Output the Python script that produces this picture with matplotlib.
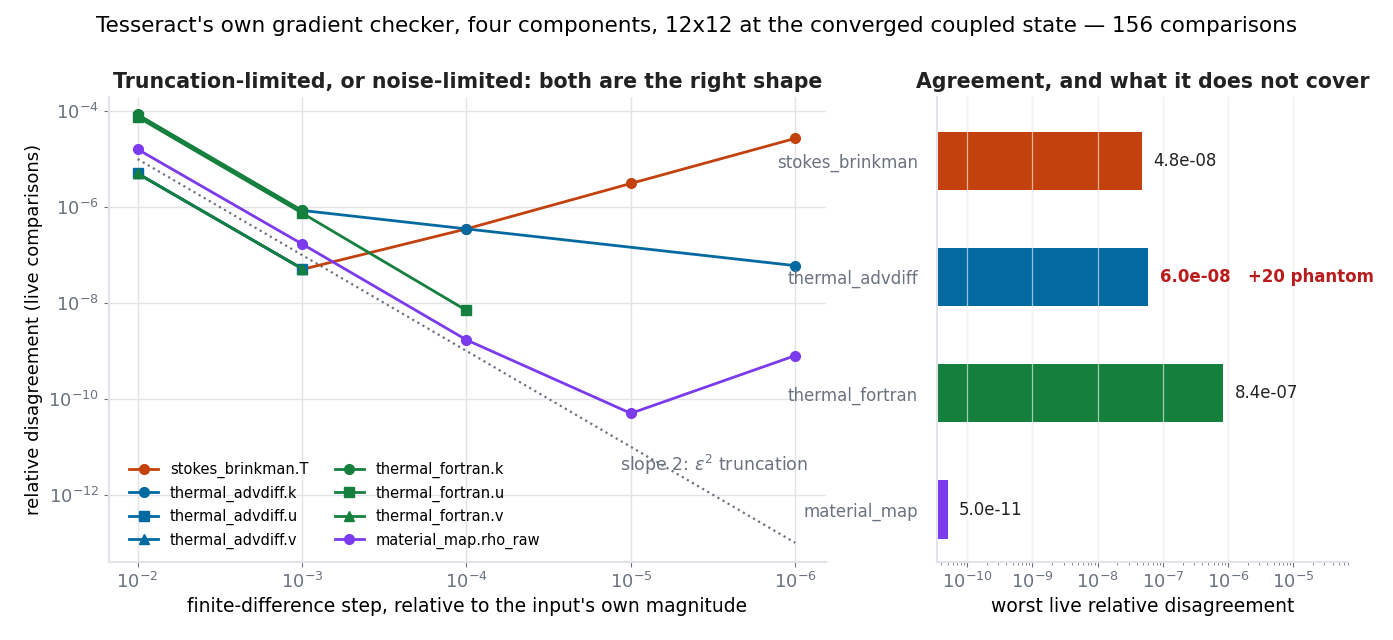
import numpy as np
import matplotlib.pyplot as plt

steps = [1e-2, 1e-3, 1e-4, 1e-5, 1e-6]
series = {
    "stokes_brinkman.T": ([1e-3, 1e-4, 1e-5, 1e-6], [5e-8, 3.5e-7, 3.1e-6, 2.7e-5]),
    "thermal_advdiff.k": ([1e-3, 1e-4, 1e-6], [8.5e-7, 3.5e-7, 6e-8]),
    "thermal_advdiff.u": ([1e-2, 1e-3], [5e-6, 5.2e-8]),
    "thermal_advdiff.v": ([1e-2, 1e-3], [5e-6, 5.2e-8]),
    "thermal_fortran.k": ([1e-2, 1e-3], [8.5e-5, 8.5e-7]),
    "thermal_fortran.u": ([1e-2, 1e-3, 1e-4], [7.5e-5, 7.5e-7, 7e-9]),
    "thermal_fortran.v": ([1e-2, 1e-3], [5e-6, 5.2e-8]),
    "material_map.rho_raw": ([1e-2, 1e-3, 1e-4, 1e-5, 1e-6], [1.6e-5, 1.7e-7, 1.7e-9, 5e-11, 8e-10]),
}
colors = {"stokes": "#c2410c", "thermal_advdiff": "#0369a1", "thermal_fortran": "#15803d",
          "material": "#7c3aed"}
markers = {"T": "o", "k": "o", "u": "s", "v": "^", "rho_raw": "o"}
slope_ref = [1e-5, 1e-13]

bar_labels = ["stokes_brinkman", "thermal_advdiff", "thermal_fortran", "material_map"]
bar_values = [4.8e-8, 6.0e-8, 8.4e-7, 5.0e-11]
bar_colors = ["#c2410c", "#0369a1", "#15803d", "#7c3aed"]

grid_c = "#e2e2e8"
tick_c = "#6b7280"

fig = plt.figure(figsize=(13.93, 6.4), dpi=100)
ax = fig.add_axes([0.078, 0.122, 0.515, 0.727])
ax2 = fig.add_axes([0.673, 0.122, 0.295, 0.727])

for name, (xs, ys) in series.items():
    comp, field = name.split(".")
    key = "stokes" if comp.startswith("stokes") else ("material" if comp.startswith("material") else comp)
    ax.plot(xs, ys, color=colors[key], marker=markers[field], lw=2, ms=7, label=name, zorder=3)
ax.plot([1e-2, 1e-6], slope_ref, ls=":", color="#6b7280", lw=1.6, zorder=2)
ax.text(3.1e-6, 3.2e-12, r"slope 2: $\varepsilon^2$ truncation", color=tick_c, fontsize=12.5,
        ha="center")

ax.set_xscale("log")
ax.set_yscale("log")
ax.set_xlim(1.5e-2, 6.5e-7)
ax.set_ylim(4e-14, 2e-4)
ax.set_yticks([1e-12, 1e-10, 1e-8, 1e-6, 1e-4])
ax.minorticks_off()
ax.grid(True, color=grid_c, lw=1)
ax.set_axisbelow(True)
ax.set_xlabel("finite-difference step, relative to the input's own magnitude", fontsize=13.5)
ax.set_ylabel("relative disagreement (live comparisons)", fontsize=13)
ax.set_title("Truncation-limited, or noise-limited: both are the right shape",
             fontsize=14.8, fontweight="bold", color="#222222")
ax.legend(ncol=2, loc="lower left", frameon=False, fontsize=10.5, columnspacing=1.8,
          bbox_to_anchor=(0.01, 0.0), prop={"family": "DejaVu Sans", "size": 10.5})

y = np.arange(len(bar_labels))[::-1]
left = 3.5e-11
ax2.barh(y, np.array(bar_values) - left, left=left, color=bar_colors, height=0.5, zorder=2)
ax2.set_xscale("log")
ax2.set_xlim(left, 7e-5)
ax2.set_ylim(-0.45, 3.55)
ax2.set_yticks(y)
ax2.set_yticklabels(bar_labels)
ax2.tick_params(axis="y", length=0, pad=14)
ax2.grid(True, axis="x", color=grid_c, lw=1, zorder=1)
ax2.set_axisbelow(True)
for xv in [1e-10, 1e-9, 1e-8, 1e-7, 1e-6, 1e-5]:
    ax2.axvline(xv, color="white", lw=0.9, alpha=0.6, zorder=2.5)
for yi, v in zip(y, bar_values):
    if v == 6.0e-8:
        ax2.text(v * 1.5, yi, "6.0e-08   +20 phantom", va="center", fontsize=12,
                 color="#b91c1c", fontweight="bold")
    else:
        ax2.text(v * 1.5, yi, f"{v:.1e}", va="center", fontsize=12, color="#222222")
ax2.set_xlabel("worst live relative disagreement", fontsize=13.5)
ax2.set_title("Agreement, and what it does not cover", fontsize=14.8, fontweight="bold",
              color="#222222")

for a in (ax, ax2):
    for s in ("top", "right"):
        a.spines[s].set_visible(False)
    for s in ("left", "bottom"):
        a.spines[s].set_color(grid_c)
        a.spines[s].set_linewidth(1.5)
    a.tick_params(colors=tick_c, labelsize=13, which="both")
ax2.tick_params(axis="y", labelsize=12)

fig.suptitle("Tesseract's own gradient checker, four components, 12x12 at the converged coupled state \u2014 156 comparisons",
             fontsize=15.5, y=0.975)
fig.savefig("out.png", dpi=100)
